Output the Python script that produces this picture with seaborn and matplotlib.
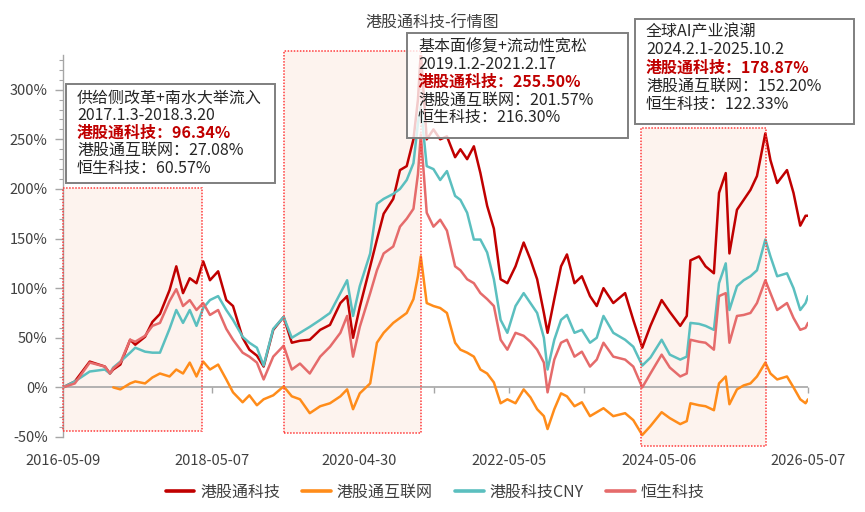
import numpy as np
import pandas as pd
import matplotlib
matplotlib.use("Agg")
import matplotlib.pyplot as plt
import matplotlib.dates as mdates
from matplotlib.patches import Rectangle
import seaborn as sns

# ---------------- data ----------------
dates = [
    "2016-05-09", "2016-07-06", "2016-09-17", "2016-11-30", "2016-12-25", "2017-01-10",
    "2017-02-14", "2017-04-03", "2017-04-28", "2017-06-15", "2017-07-21", "2017-08-27",
    "2017-10-13", "2017-11-15", "2017-12-18", "2018-01-20", "2018-02-22", "2018-03-27",
    "2018-04-29", "2018-06-08", "2018-07-18", "2018-08-20", "2018-10-06", "2018-11-08",
    "2018-12-15", "2019-01-17", "2019-03-05", "2019-04-25", "2019-06-04", "2019-07-14",
    "2019-08-31", "2019-10-21", "2019-12-08", "2020-01-28", "2020-03-01", "2020-03-30",
    "2020-05-02", "2020-06-22", "2020-07-25", "2020-08-27", "2020-10-13", "2020-11-15",
    "2020-12-18", "2021-01-20", "2021-02-11", "2021-02-25", "2021-03-26", "2021-04-28",
    "2021-05-31", "2021-07-03", "2021-08-12", "2021-09-07", "2021-10-10", "2021-11-12",
    "2021-12-14", "2022-01-16", "2022-02-18", "2022-03-23", "2022-04-25", "2022-06-04",
    "2022-07-14", "2022-08-16", "2022-09-18", "2022-10-21", "2022-11-08", "2022-12-11",
    "2023-01-13", "2023-02-11", "2023-03-20", "2023-04-25", "2023-06-04", "2023-07-07",
    "2023-08-09", "2023-09-26", "2023-11-23", "2024-01-02", "2024-02-15", "2024-03-26",
    "2024-05-20", "2024-06-29", "2024-08-19", "2024-09-20", "2024-10-08", "2024-11-19",
    "2024-12-21", "2025-01-31", "2025-02-25", "2025-03-30", "2025-04-17", "2025-05-24",
    "2025-06-26", "2025-07-29", "2025-08-30", "2025-10-10", "2025-11-04", "2025-12-07",
    "2026-01-24", "2026-02-25", "2026-03-30", "2026-04-25", "2026-05-07",
]

hk_tech = [
    0, 6, 26, 21, 14, 18, 23, 48, 43, 51, 66, 74, 98, 122, 95, 110, 105, 127, 108, 117,
    88, 82, 50, 38, 32, 21, 58, 71, 45, 47, 48, 58, 63, 85, 92, 50, 81, 122, 149, 175,
    190, 219, 223, 250, 290, 338, 250, 260, 250, 253, 232, 240, 230, 243, 216, 183, 160,
    109, 105, 122, 146, 129, 109, 75, 55, 89, 122, 134, 105, 112, 92, 82, 100, 85, 95,
    68, 40, 62, 88, 76, 62, 72, 128, 132, 122, 115, 196, 216, 135, 179, 189, 199, 213,
    256, 229, 206, 219, 196, 163, 173, 173,
]
hk_internet = [
    np.nan, np.nan, np.nan, np.nan, np.nan, 0, -2, 4, 6, 4, 10, 14, 11, 18, 14, 25, 11,
    26, 18, 23, 8, -5, -15, -8, -18, -12, -8, 1, -9, -12, -26, -19, -16, -9, -2, -22, -6,
    4, 45, 55, 65, 70, 75, 89, 112, 132, 85, 82, 80, 75, 45, 38, 35, 31, 18, 14, 5, -16,
    -12, -16, -2, -10, -22, -29, -42, -22, -6, -9, -19, -15, -29, -25, -21, -29, -26, -33,
    -48, -39, -25, -31, -37, -34, -16, -18, -19, -23, 4, 11, -17, -2, 2, 4, 11, 25, 14, 8,
    11, 0, -12, -16, -12,
]
hk_tech_cny = [
    0, 6, 16, 18, 14, 20, 26, 35, 40, 36, 35, 35, 59, 78, 65, 78, 62, 80, 88, 92, 78, 68,
    51, 45, 40, 22, 59, 71, 50, 55, 61, 68, 75, 95, 108, 72, 102, 135, 185, 190, 195, 200,
    209, 226, 266, 283, 223, 220, 209, 218, 193, 189, 176, 149, 149, 136, 109, 68, 55, 82,
    95, 85, 75, 50, 18, 48, 68, 73, 55, 58, 45, 50, 72, 55, 48, 41, 22, 30, 48, 33, 28, 31,
    65, 64, 62, 58, 105, 125, 78, 102, 108, 112, 118, 149, 132, 112, 115, 100, 78, 85, 92,
]
hs_tech = [
    0, 4, 25, 21, 14, 19, 25, 48, 46, 52, 62, 65, 87, 99, 82, 88, 78, 85, 73, 78, 59, 48,
    35, 31, 25, 8, 31, 42, 18, 24, 14, 31, 41, 55, 72, 31, 61, 95, 118, 135, 142, 162, 170,
    180, 215, 255, 176, 162, 169, 158, 122, 118, 109, 105, 95, 89, 82, 48, 38, 55, 52, 46,
    38, 25, -5, 28, 45, 48, 31, 36, 21, 28, 45, 31, 28, 21, 0, 14, 33, 20, 11, 14, 48, 46,
    45, 38, 92, 95, 45, 72, 73, 75, 85, 108, 95, 78, 85, 70, 58, 60, 65,
]

series_names = ["港股通科技", "港股通互联网", "港股科技CNY", "恒生科技"]
series_colors = ["#C00000", "#FF8C1A", "#5BBFBF", "#E56B6B"]

tick_dates = ["2016-05-09", "2018-05-07", "2020-04-30", "2022-05-05", "2024-05-06", "2026-05-07"]

region_starts = ["2016-05-09", "2019-04-27", "2024-02-09"]
region_ends = ["2018-03-22", "2021-02-26", "2025-10-12"]
region_bottoms = [-44, -46, -59]
region_tops = [201, 339, 261]

box_titles = ["供给侧改革+南水大举流入", "基本面修复+流动性宽松", "全球AI产业浪潮"]
box_periods = ["2017.1.3-2018.3.20", "2019.1.2-2021.2.17", "2024.2.1-2025.10.2"]
box_tech = ["96.34%", "255.50%", "178.87%"]
box_internet = ["27.08%", "201.57%", "152.20%"]
box_hstech = ["60.57%", "216.30%", "122.33%"]

# ---------------- frame ----------------
df = pd.DataFrame({
    "date": pd.to_datetime(dates),
    series_names[0]: hk_tech,
    series_names[1]: hk_internet,
    series_names[2]: hk_tech_cny,
    series_names[3]: hs_tech,
})
long = df.melt(id_vars="date", var_name="series", value_name="value").dropna()

sns.set_theme(style="white")
plt.rcParams["font.family"] = ["Noto Sans CJK SC", "DejaVu Sans"]
plt.rcParams["axes.unicode_minus"] = False

W, H = 865, 512
fig = plt.figure(figsize=(W / 100, H / 100), dpi=100)
ax = fig.add_axes([63 / W, 1 - 437 / H, 745 / W, (437 - 55) / H])

YMIN, YMAX = -50, 335
ax.set_ylim(YMIN, YMAX)
ax.set_xlim(pd.Timestamp(dates[0]), pd.Timestamp(tick_dates[-1]))

# shaded regions
for s, e, b, t in zip(region_starts, region_ends, region_bottoms, region_tops):
    x0 = mdates.date2num(pd.Timestamp(s))
    x1 = mdates.date2num(pd.Timestamp(e))
    ax.add_patch(Rectangle((x0, b), x1 - x0, t - b, facecolor="#FDF3EE",
                           edgecolor="none", zorder=0.5, clip_on=False))
    ax.add_patch(Rectangle((x0, b), x1 - x0, t - b, facecolor="none",
                           edgecolor="#FF3B3B", linestyle=(0, (1, 1)), linewidth=1.1,
                           zorder=3, clip_on=False))

ax.axhline(0, color="#A6A6A6", lw=1.2, zorder=1)

sns.lineplot(data=long, x="date", y="value", hue="series", hue_order=series_names,
             palette=dict(zip(series_names, series_colors)), linewidth=1.8,
             estimator=None, sort=False, ax=ax, zorder=2)

# axes styling
for sp in ["top", "right", "bottom"]:
    ax.spines[sp].set_visible(False)
ax.spines["left"].set_color("#A6A6A6")
ax.spines["left"].set_linewidth(1.0)
ax.set_yticks(np.arange(-50, 301, 50))
ax.set_yticks(np.arange(-50, 331, 10), minor=True)
ax.yaxis.set_major_formatter(matplotlib.ticker.FuncFormatter(lambda v, p: f"{int(v)}%"))
ax.tick_params(axis="y", which="major", direction="out", length=6, width=1,
               color="#A6A6A6", labelsize=10.5, labelcolor="#404040", pad=5, left=True)
ax.tick_params(axis="y", which="minor", direction="out", length=3, width=0.8,
               color="#A6A6A6", left=True)

tick_ts = pd.to_datetime(tick_dates)
ax.set_xticks(tick_ts)
ax.set_xticklabels(tick_dates)
ax.tick_params(axis="x", which="both", length=0, labelsize=10.5, labelcolor="#404040", pad=12)
ax.set_xlabel("")
ax.set_ylabel("")
ax.grid(False)

# tick marks hanging from zero line
tick_nums = mdates.date2num(tick_ts)
mid_nums = (tick_nums[:-1] + tick_nums[1:]) / 2
all_ticks = np.sort(np.concatenate([tick_nums, mid_nums]))
sec = ax.secondary_xaxis((0 - YMIN) / (YMAX - YMIN))
sec.set_xticks(all_ticks)
sec.tick_params(axis="x", direction="out", length=4, width=1, color="#A6A6A6",
                labelbottom=False, labeltop=False)
for sp in sec.spines.values():
    sp.set_visible(False)

# legend
sns.move_legend(ax, "center", bbox_to_anchor=((435 - 63) / 745, (437 - 492) / 382),
                ncol=4, frameon=False, title=None, fontsize=11.5, handlelength=1.8,
                columnspacing=1.4, handletextpad=0.35)
leg = ax.get_legend()
for line in leg.get_lines():
    line.set_linewidth(2.6)
for txt in leg.get_texts():
    txt.set_color("#404040")

# title
fig.text(432 / W, 1 - 23 / H, "港股通科技-行情图", ha="center", va="center",
         fontsize=11.5, color="#404040")

# annotation boxes (pixel geometry)
boxes = [(66, 84, 275, 183, 77, [98, 115.5, 133, 150.5, 168]),
         (407, 33, 628, 138, 418, [47, 64.5, 82, 100, 117.5]),
         (635, 19, 854, 124, 646, [32, 50, 68, 86, 104])]
for i, (x0, y0, x1, y1, tx, ys) in enumerate(boxes):
    fig.add_artist(Rectangle((x0 / W, 1 - y1 / H), (x1 - x0) / W, (y1 - y0) / H,
                             transform=fig.transFigure, facecolor=(1, 1, 1, 0.8),
                             edgecolor="#7F7F7F", linewidth=1.4, zorder=5))
    lines = [(box_titles[i], "#262626", "normal"),
             (box_periods[i], "#262626", "normal"),
             ("港股通科技：" + box_tech[i], "#C00000", "bold"),
             ("港股通互联网：" + box_internet[i], "#262626", "normal"),
             ("恒生科技：" + box_hstech[i], "#262626", "normal")]
    for (s, c, w), yy in zip(lines, ys):
        fig.text(tx / W, 1 - yy / H, s, ha="left", va="center", fontsize=11.5,
                 color=c, fontweight=w, zorder=6)

fig.savefig("out.png", dpi=100)
